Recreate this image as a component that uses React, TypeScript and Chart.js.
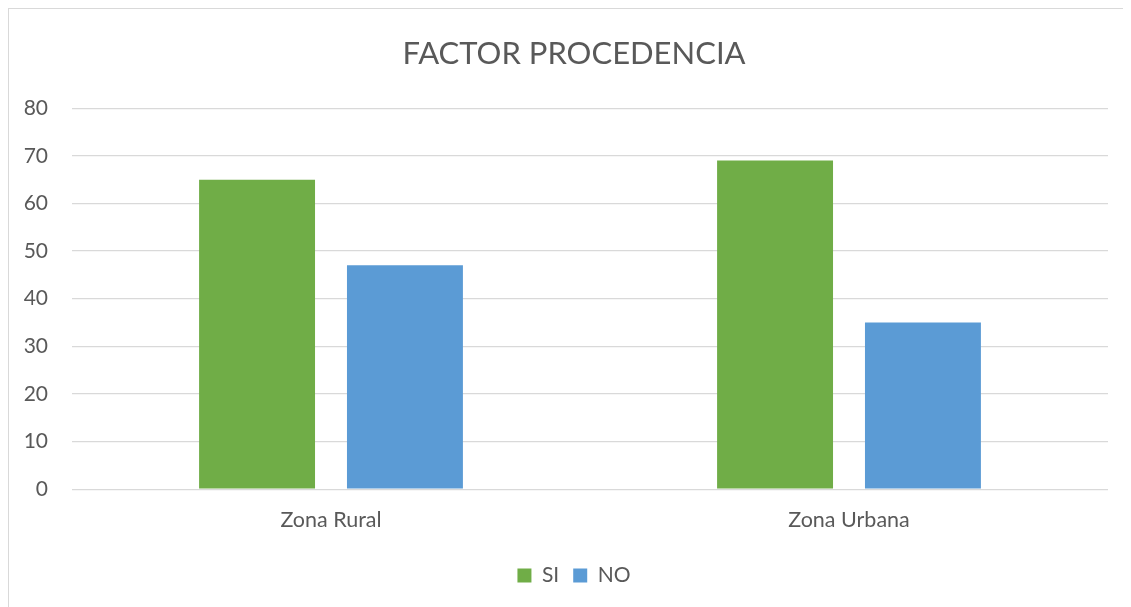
import React, { useEffect, useRef } from "react";
import { Chart, registerables } from "chart.js";

Chart.register(...registerables);

const categories = ["Zona Rural", "Zona Urbana"];
const siValues = [65, 69];
const noValues = [47, 35];
const seriesNames = ["SI", "NO"];
const titleText = "FACTOR PROCEDENCIA";

const FONT = "Lato, 'Open Sans', sans-serif";
const TEXT = "#595959";
const GRID = "#d9d9d9";

export default function App() {
  const ref = useRef<HTMLCanvasElement | null>(null);

  useEffect(() => {
    if (!ref.current) return;
    const chart = new Chart(ref.current, {
      type: "bar",
      data: {
        labels: categories,
        datasets: [
          {
            label: seriesNames[0],
            data: siValues,
            backgroundColor: "#70AD47",
            categoryPercentage: 0.571,
            barPercentage: 0.784,
          },
          {
            label: seriesNames[1],
            data: noValues,
            backgroundColor: "#5B9BD5",
            categoryPercentage: 0.571,
            barPercentage: 0.784,
          },
        ],
      },
      options: {
        responsive: false,
        animation: false,
        maintainAspectRatio: false,
        layout: { padding: { left: 0, right: 0, top: 0, bottom: 11 } },
        plugins: {
          title: {
            display: true,
            text: titleText,
            color: TEXT,
            font: { family: FONT, size: 31, weight: "normal", lineHeight: 1.2 },
            padding: { top: 26, bottom: 36 },
          },
          legend: {
            position: "bottom",
            labels: {
              color: TEXT,
              font: { family: FONT, size: 21 },
              boxWidth: 14,
              boxHeight: 14,
              padding: 14,
            },
          },
          tooltip: { enabled: false },
        },
        scales: {
          x: {
            grid: { display: false, drawTicks: false },
            border: { display: false },
            ticks: {
              color: TEXT,
              font: { family: FONT, size: 21.5 },
              padding: 18,
            },
          },
          y: {
            min: 0,
            max: 80,
            afterFit: (scale: any) => {
              scale.width = 63;
            },
            grid: { color: GRID, lineWidth: 1.3, drawTicks: false },
            border: { display: false },
            ticks: {
              stepSize: 10,
              color: TEXT,
              font: { family: FONT, size: 21 },
              padding: 24,
            },
          },
          yRight: {
            position: "right",
            min: 0,
            max: 80,
            grid: { display: false, drawTicks: false },
            border: { display: false },
            ticks: { display: false },
            afterFit: (scale: any) => {
              scale.width = 31;
            },
          },
        },
      },
    });
    return () => chart.destroy();
  }, []);

  return (
    <div
      style={{
        width: 1122,
        height: 598,
        borderLeft: "1px solid #d9d9d9",
        borderTop: "1px solid #d9d9d9",
        background: "#fff",
        overflow: "hidden",
      }}
    >
      <canvas ref={ref} width={1130} height={598} style={{ display: "block" }} />
    </div>
  );
}
